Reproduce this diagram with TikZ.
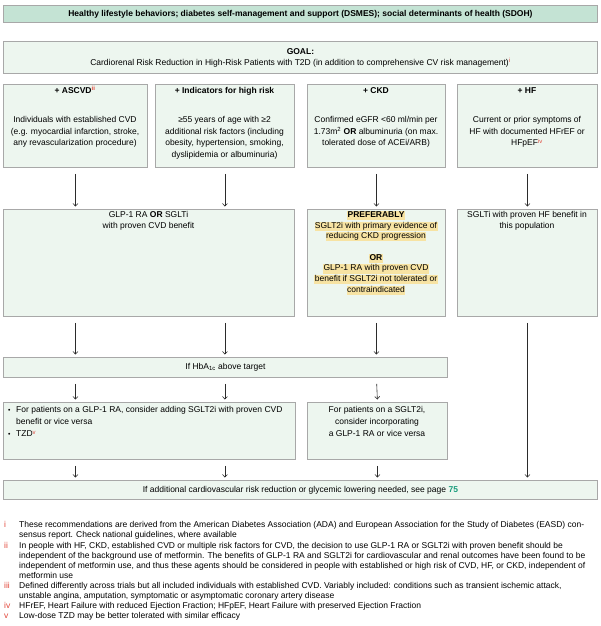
\documentclass[tikz,border=0pt]{standalone}
\usepackage{fontspec}
\setmainfont{Liberation Sans}
\usetikzlibrary{arrows.meta}
\definecolor{hdrfill}{HTML}{C4E3D4}
\definecolor{boxfill}{HTML}{EDF6EF}
\definecolor{boxline}{HTML}{A8A8A8}
\definecolor{redsup}{HTML}{E2473B}
\definecolor{pagelink}{HTML}{1A9C7C}
\definecolor{hlyel}{HTML}{F7E3A3}
\definecolor{arrcol}{HTML}{2B2B2B}
\newcommand{\hlt}[1]{{\setlength{\fboxsep}{0.4pt}\colorbox{hlyel}{\rule[-2.2pt]{0pt}{7.9pt}#1}}}
\newcommand{\rsup}[1]{\textsuperscript{\textcolor{redsup}{#1}}}
\newcommand{\fnum}[1]{\llap{\makebox[15pt][l]{\textcolor{redsup}{#1}}}}
\newcommand{\bul}{\llap{\makebox[8pt][l]{\raisebox{0.6pt}{\scalebox{0.8}{\textbullet}}}}}
\newcommand{\nolsl}{\setlength{\lineskiplimit}{-20pt}}
\begin{document}
\begin{tikzpicture}[x=1pt,y=-1pt,
  box/.style={draw=boxline, fill=boxfill, line width=0.9pt, inner sep=0pt, anchor=north west},
  txt/.style={inner sep=0pt, align=center, font={\fontsize{8.5}{11.5}\selectfont\nolsl}},
  txtb/.style={txt, font={\fontsize{8.5}{10.7}\selectfont\nolsl}},
  ttl/.style={inner sep=0pt, anchor=base, font={\fontsize{8.5}{10}\selectfont\bfseries}},
  arr/.style={draw=arrcol, line width=0.6pt, -{Straight Barb[length=2.6pt,width=5pt]}, shorten <=6pt, shorten >=2.5pt}]
\useasboundingbox[fill=white] (0,0) rectangle (600,626);

% header
\node[box, fill=hdrfill, minimum width=594pt, minimum height=17pt] (hdr) at (3,5) {};
\node[inner sep=0pt, font={\fontsize{8.5}{10}\selectfont\bfseries}] (hdrt) at (hdr.center) {Healthy lifestyle behaviors; diabetes self-management and support (DSMES); social determinants of health (SDOH)};

% goal
\node[box, minimum width=594pt, minimum height=32pt] (goal) at (3,41) {};
\node[txt, font={\fontsize{8.5}{11}\selectfont}] (goalt) at (goal.center) {\textbf{GOAL:}\\Cardiorenal Risk Reduction in High-Risk Patients with T2D (in addition to comprehensive CV risk management)\rsup{i}};

% row 1
\node[box, minimum width=144pt, minimum height=83pt] (asc) at (3,84) {};
\node[box, minimum width=139pt, minimum height=83pt] (ind) at (155,84) {};
\node[box, minimum width=138pt, minimum height=83pt] (ckd) at (307,84) {};
\node[box, minimum width=140pt, minimum height=83pt] (hf) at (457,84) {};

\node[ttl] (asct) at (75,93) {+ ASCVD\rsup{ii}};
\node[ttl] (indt) at (224.5,93) {+ Indicators for high risk};
\node[ttl] (ckdt) at (376,93) {+ CKD};
\node[ttl] (hft) at (527,93) {+ HF};

\node[txt, anchor=north] (ascb) at (75,116.5) {Individuals with established CVD\\(e.g. myocardial infarction, stroke,\\any revascularization procedure)};
\node[txt, anchor=north] (indb) at (224.5,116.5) {≥55 years of age with ≥2\\additional risk factors (including\\obesity, hypertension, smoking,\\dyslipidemia or albuminuria)};
\node[txt, anchor=north] (ckdb) at (376,116.5) {Confirmed eGFR <60 ml/min per\\1.73m\textsuperscript{2} \textbf{OR} albuminuria (on max.\\tolerated dose of ACEi/ARB)};
\node[txt, anchor=north] (hfb) at (527,116.5) {Current or prior symptoms of\\HF with documented HFrEF or\\HFpEF\rsup{iv}};

% row 2
\node[box, minimum width=291pt, minimum height=107pt] (glp) at (3,209) {};
\node[box, minimum width=138pt, minimum height=107pt] (ckdr) at (307,209) {};
\node[box, minimum width=140pt, minimum height=107pt] (hfr) at (457,209) {};

\node[txtb, anchor=north] (glpt) at (148.5,211.5) {GLP-1 RA \textbf{OR} SGLTi\\with proven CVD benefit};
\node[txtb, anchor=north] (ckdrt) at (376,211) {\hlt{\textbf{PREFERABLY}}\\\hlt{SGLT2i with primary evidence of}\\\hlt{reducing CKD progression}\\[10.7pt]\hlt{\textbf{OR}}\\\hlt{GLP-1 RA with proven CVD}\\\hlt{benefit if SGLT2i not tolerated or}\\\hlt{contraindicated}};
\node[txtb, anchor=north] (hfrt) at (527,211.5) {SGLTi with proven HF benefit in\\this population};

% HbA1c
\node[box, minimum width=444pt, minimum height=20pt] (hba) at (3,357) {};
\node[inner sep=0pt, font={\fontsize{8.5}{10}\selectfont}] (hbat) at (hba.center) {If HbA\textsubscript{1c} above target};

% row 4
\node[box, minimum width=292pt, minimum height=57pt] (add) at (3,402) {};
\node[box, minimum width=140pt, minimum height=57pt] (inc) at (307,402) {};
\node[inner sep=0pt, align=left, anchor=north west, font={\fontsize{8.5}{12}\selectfont}] (addt) at (16,406.5) {\bul For patients on a GLP-1 RA, consider adding SGLT2i with proven CVD\\benefit or vice versa\\\bul TZD\rsup{v}};
\node[txt, anchor=north, font={\fontsize{8.5}{12}\selectfont}] (inct) at (377,406.5) {For patients on a SGLT2i,\\consider incorporating\\a GLP-1 RA or vice versa};

% final
\node[box, minimum width=594pt, minimum height=19pt] (fin) at (3,480) {};
\node[inner sep=0pt, font={\fontsize{8.5}{10}\selectfont}] (fint) at (fin.center) {If additional cardiovascular risk reduction or glycemic lowering needed, see page \textcolor{pagelink}{\textbf{75}}};

% connectors
\draw[arr] (asc.south) -- (asc.south |- glp.north);
\draw[arr] (ind.south) -- (ind.south |- glp.north);
\draw[arr] (ckd.south) -- (ckdr.north);
\draw[arr] (hf.south) -- (hfr.north);

\draw[arr] (glp.south -| asc.south) -- (hba.north -| asc.south);
\draw[arr] (glp.south -| ind.south) -- (hba.north -| ind.south);
\draw[arr] (ckdr.south) -- (ckdr.south |- hba.north);
\draw[arr] (hfr.south) -- (hfr.south |- fin.north);

\draw[arr] (hba.south -| asc.south) -- (add.north -| asc.south);
\draw[arr] (hba.south -| ind.south) -- (add.north -| ind.south);
\draw[arr] (hba.south -| ckdr.south) -- (inc.north);

\draw[arr] (add.south -| asc.south) -- (fin.north -| asc.south);
\draw[arr] (add.south -| ind.south) -- (fin.north -| ind.south);
\draw[arr] (inc.south) -- (fin.north -| inc.south);

% footnotes
\node[inner sep=0pt, align=left, anchor=north west, font={\fontsize{8.5}{10.1}\selectfont\nolsl}] (fn) at (19,521.5) {%
\fnum{i}These recommendations are derived from the American Diabetes Association (ADA) and European Association for the Study of Diabetes (EASD) con-\\
sensus report. Check national guidelines, where available\\
\fnum{ii}In people with HF, CKD, established CVD or multiple risk factors for CVD, the decision to use GLP-1 RA or SGLT2i with proven benefit should be\\
independent of the background use of metformin. The benefits of GLP-1 RA and SGLT2i for cardiovascular and renal outcomes have been found to be\\
independent of metformin use, and thus these agents should be considered in people with established or high risk of CVD, HF, or CKD, independent of\\
metformin use\\
\fnum{iii}Defined differently across trials but all included individuals with established CVD. Variably included: conditions such as transient ischemic attack,\\
unstable angina, amputation, symptomatic or asymptomatic coronary artery disease\\
\fnum{iv}HFrEF, Heart Failure with reduced Ejection Fraction; HFpEF, Heart Failure with preserved Ejection Fraction\\
\fnum{v}Low-dose TZD may be better tolerated with similar efficacy};
\end{tikzpicture}
\end{document}
